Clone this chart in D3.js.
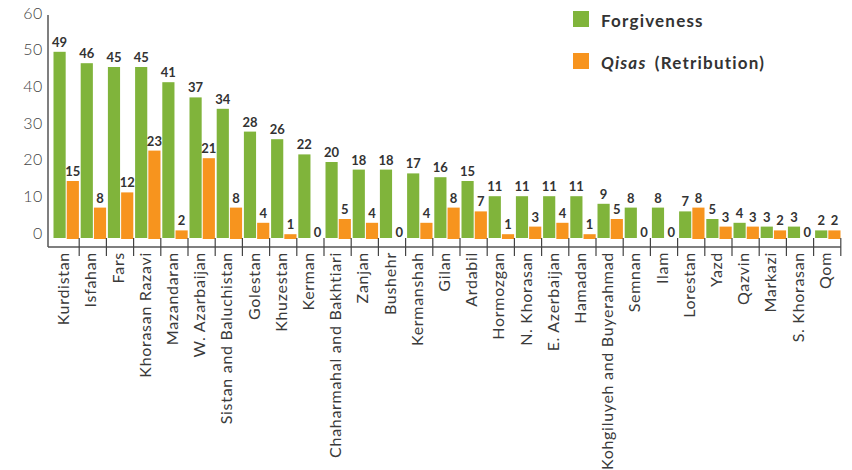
<!DOCTYPE html>
<html>
<head>
<meta charset="utf-8">
<script src="https://cdn.jsdelivr.net/npm/d3@7"></script>
<style>
    body { margin: 0; background: #fff; }
    svg { display: block; }
    text { font-family: "Lato", "Open Sans", sans-serif; }
</style>
</head>
<body>
<svg id="chart" width="852" height="470"></svg>
<script>
// provinces, sorted by forgiveness count
var provinces = ["Kurdistan", "Isfahan", "Fars", "Khorasan Razavi", "Mazandaran", "W. Azarbaijan",
    "Sistan and Baluchistan", "Golestan", "Khuzestan", "Kerman", "Chaharmahal and Bakhtiari", "Zanjan",
    "Bushehr", "Kermanshah", "Gilan", "Ardabil", "Hormozgan", "N. Khorasan", "E. Azerbaijan", "Hamadan",
    "Kohgiluyeh and Buyerahmad", "Semnan", "Ilam", "Lorestan", "Yazd", "Qazvin", "Markazi", "S. Khorasan", "Qom"];
var forgiveness = [49, 46, 45, 45, 41, 37, 34, 28, 26, 22, 20, 18, 18, 17, 16, 15, 11, 11, 11, 11, 9, 8, 8, 7, 5, 4, 3, 3, 2];
var qisas = [15, 8, 12, 23, 2, 21, 8, 4, 1, 0, 5, 4, 0, 4, 8, 7, 1, 3, 4, 1, 5, 0, 0, 8, 3, 3, 2, 0, 2];
var yTicks = [0, 10, 20, 30, 40, 50, 60];

var GREEN = "#80b43b";
var ORANGE = "#f7941e";

var svg = d3.select("#chart");

var axisX = 48, axisY = 247;
var x = d3.scaleBand().domain(provinces).range([52, 840.8]).padding(0);
var sub = d3.scaleBand().domain(["f", "q"]).range([1.5, 26.9]).paddingInner(0.08);
var y = d3.scaleLinear().domain([0, 60]).range([238, 10]);
// the tick labels in the original sit on a slightly tighter scale than the bars
var tickY = d3.scaleLinear().domain([0, 60]).range([233, 13]);

var rows = provinces.map(function(p, i){
    return { name: p, f: forgiveness[i], q: qisas[i] };
});

// y tick labels (no tick marks)
svg.append("g").selectAll("text")
    .data(yTicks)
    .enter().append("text")
    .attr("x", 43)
    .attr("y", function(d){ return tickY(d); })
    .attr("dy", "0.36em")
    .attr("text-anchor", "end")
    .style("font-size", "16px")
    .style("font-weight", 300)
    .style("letter-spacing", "0.6px")
    .style("fill", "#444")
    .text(function(d){ return d; });

// bars
var groups = svg.append("g").selectAll("g")
    .data(rows)
    .enter().append("g")
    .attr("transform", function(d){ return "translate(" + x(d.name) + ",0)"; });

[["f", GREEN], ["q", ORANGE]].forEach(function(s){
    var key = s[0];
    groups.append("rect")
        .attr("x", sub(key))
        .attr("width", sub.bandwidth())
        .attr("y", function(d){ return y(d[key]); })
        .attr("height", function(d){
            // orange bars hang a pixel lower in the original
            return y(0) - y(d[key]) + (key == "q" && d[key] > 0 ? 1 : 0);
        })
        .style("fill", s[1]);

    groups.append("text")
        .attr("x", sub(key) + sub.bandwidth() / 2)
        .attr("y", function(d){ return d[key] == 0 ? y(0) - 1 : y(d[key]) - 5; })
        .attr("text-anchor", "middle")
        .style("font-size", "13px")
        .style("font-weight", "bold")
        .style("fill", "#333")
        .text(function(d){ return d[key]; });
});

// axes lines
svg.append("line")
    .attr("x1", axisX).attr("x2", axisX)
    .attr("y1", 15).attr("y2", axisY)
    .style("stroke", "#555").style("stroke-width", 1.5);
svg.append("line")
    .attr("x1", axisX).attr("x2", x.range()[1])
    .attr("y1", axisY).attr("y2", axisY)
    .style("stroke", "#555").style("stroke-width", 1.5);

// category separators
svg.append("g").selectAll("line")
    .data(provinces)
    .enter().append("line")
    .attr("x1", function(d){ return x(d) + x.bandwidth(); })
    .attr("x2", function(d){ return x(d) + x.bandwidth(); })
    .attr("y1", 238).attr("y2", 256)
    .style("stroke", "#444").style("stroke-width", 1.2);

// category labels
svg.append("g").selectAll("text")
    .data(provinces)
    .enter().append("text")
    .attr("transform", function(d){
        return "translate(" + (x(d) + x.bandwidth() / 2 - 2) + ",252) rotate(-90)";
    })
    .attr("dy", "0.35em")
    .attr("text-anchor", "end")
    .style("font-size", "16px")
    .style("font-weight", 400)
    .style("letter-spacing", "0.7px")
    .style("fill", "#3a3a3a")
    .text(function(d){ return d; });

// legend
var legend = svg.append("g").attr("transform", "translate(573,11)");
legend.append("rect").attr("width", 16).attr("height", 16).style("fill", GREEN);
legend.append("rect").attr("y", 42).attr("width", 16).attr("height", 16).style("fill", ORANGE);
legend.append("text")
    .attr("x", 28).attr("y", 10).attr("dy", "0.35em")
    .style("font-size", "17px").style("font-weight", "bold").style("fill", "#333")
    .style("letter-spacing", "1.2px")
    .text("Forgiveness");
var t2 = legend.append("text")
    .attr("x", 28).attr("y", 52).attr("dy", "0.35em")
    .style("font-size", "17px").style("font-weight", "bold").style("fill", "#333")
    .style("letter-spacing", "1.2px").style("word-spacing", "3px");
t2.append("tspan").style("font-style", "italic").text("Qisas");
t2.append("tspan").text(" (Retribution)");
</script>
</body>
</html>
